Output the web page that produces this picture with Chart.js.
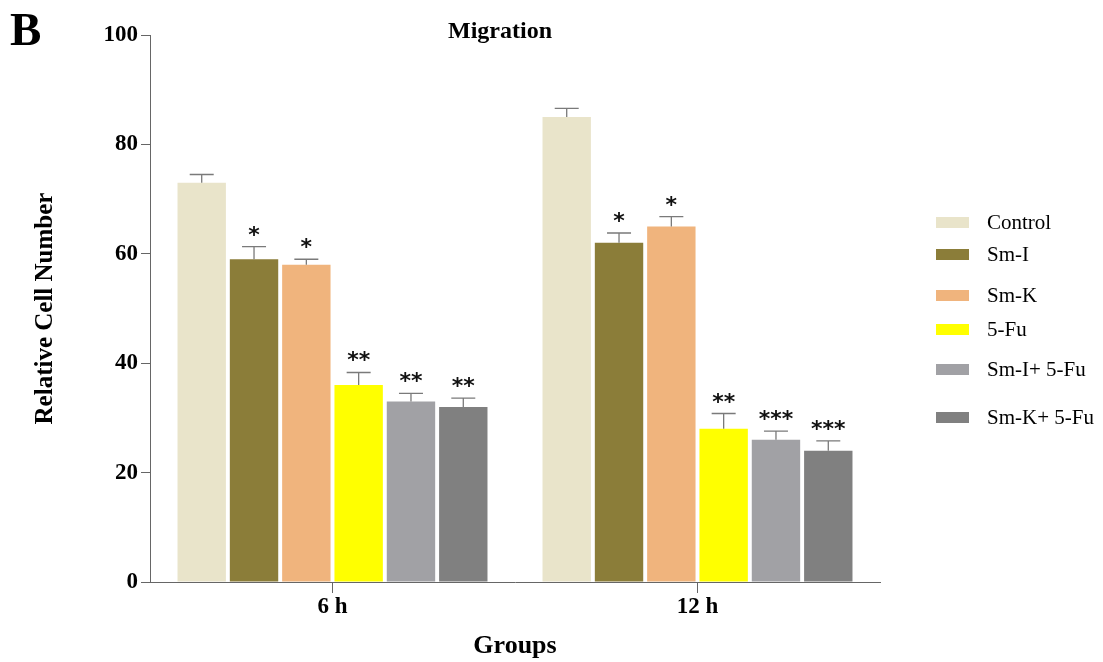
<!DOCTYPE html>
<html>
<head>
<meta charset="utf-8">
<script src="https://cdn.jsdelivr.net/npm/chart.js@4/dist/chart.umd.min.js"></script>
<style>
html,body{margin:0;padding:0;background:#fff;}
#wrap{width:1103px;height:662px;position:relative;}
</style>
</head>
<body>
<div id="wrap"><canvas id="c" width="1103" height="662"></canvas></div>
<script>
const categories = ['6 h', '12 h'];
const seriesNames = ['Control', 'Sm-I', 'Sm-K', '5-Fu', 'Sm-I+ 5-Fu', 'Sm-K+ 5-Fu'];
const controlValues = [73, 85];
const smIValues = [59, 62];
const smKValues = [58, 65];
const fuValues = [36, 28];
const smIFuValues = [33, 26];
const smKFuValues = [32, 24];
const controlErr = [1.5, 1.6];
const smIErr = [2.3, 1.8];
const smKErr = [1.0, 1.8];
const fuErr = [2.3, 2.8];
const smIFuErr = [1.5, 1.6];
const smKFuErr = [1.6, 1.8];
const controlSig = ['', ''];
const smISig = ['*', '*'];
const smKSig = ['*', '*'];
const fuSig = ['**', '**'];
const smIFuSig = ['**', '***'];
const smKFuSig = ['**', '***'];
const yTicks = [0, 20, 40, 60, 80, 100];

const colors = ['#E9E4CA', '#8B7D39', '#F0B47D', '#FFFF00', '#A1A1A5', '#808080'];
const values = [controlValues, smIValues, smKValues, fuValues, smIFuValues, smKFuValues];
const errs = [controlErr, smIErr, smKErr, fuErr, smIFuErr, smKFuErr];
const sigs = [controlSig, smISig, smKSig, fuSig, smIFuSig, smKFuSig];

const datasets = seriesNames.map((n, i) => ({
  label: n,
  data: values[i],
  backgroundColor: colors[i],
  borderWidth: 0,
  errors: errs[i],
  sig: sigs[i],
  categoryPercentage: 0.86,
  barPercentage: 0.925
}));

const serif = "'Liberation Serif', 'Times New Roman', serif";
const legendY = [222, 254, 295, 329, 369, 417];

const extras = {
  id: 'extras',
  afterDatasetsDraw(chart) {
    const ctx = chart.ctx;
    const y = chart.scales.y;
    chart.data.datasets.forEach((ds, di) => {
      const meta = chart.getDatasetMeta(di);
      meta.data.forEach((bar, i) => {
        const v = ds.data[i], e = ds.errors[i];
        const top = y.getPixelForValue(v + e);
        const base = y.getPixelForValue(v);
        ctx.save();
        ctx.strokeStyle = '#7a7a7a';
        ctx.lineWidth = 1.3;
        ctx.beginPath();
        ctx.moveTo(bar.x, base);
        ctx.lineTo(bar.x, top);
        ctx.moveTo(bar.x - 12, top);
        ctx.lineTo(bar.x + 12, top);
        ctx.stroke();
        if (ds.sig[i]) {
          ctx.fillStyle = '#111';
          ctx.font = "bold 22px 'DejaVu Sans', sans-serif";
          ctx.textAlign = 'center';
          ctx.textBaseline = 'alphabetic';
          ctx.fillText(ds.sig[i], bar.x, top - 5);
        }
        ctx.restore();
      });
    });
  },
  afterDraw(chart) {
    const ctx = chart.ctx;
    ctx.save();
    ctx.fillStyle = '#000';
    ctx.textBaseline = 'alphabetic';
    ctx.textAlign = 'left';
    ctx.font = "bold 47px " + serif;
    ctx.fillText('B', 10, 45);
    ctx.textAlign = 'center';
    ctx.font = "bold 24px " + serif;
    ctx.fillText('Migration', 500, 38);
    // legend
    chart.data.datasets.forEach((ds, i) => {
      const yy = legendY[i];
      ctx.fillStyle = ds.backgroundColor;
      ctx.fillRect(936, yy - 5, 33, 11);
      ctx.fillStyle = '#000';
      ctx.textAlign = 'left';
      ctx.textBaseline = 'middle';
      ctx.font = "21px " + serif;
      ctx.fillText(ds.label, 987, yy + 1);
    });
    ctx.restore();
  }
};

new Chart(document.getElementById('c'), {
  type: 'bar',
  data: { labels: categories, datasets },
  plugins: [extras],
  options: {
    responsive: false,
    animation: false,
    layout: { padding: { left: 31, right: 223, top: 35, bottom: 0 } },
    plugins: { legend: { display: false }, tooltip: { enabled: false }, title: { display: false } },
    scales: {
      x: {
        grid: { display: true, drawOnChartArea: false, offset: false, tickLength: 11, color: '#666', lineWidth: 1 },
        border: { color: '#666', width: 1 },
        ticks: { color: '#000', font: { family: serif, weight: 'bold', size: 23 }, padding: 0 },
        title: { display: true, text: 'Groups', color: '#000', font: { family: serif, weight: 'bold', size: 26 }, padding: { top: 4, bottom: 0 } },
        afterFit(s) { s.height = 80; }
      },
      y: {
        min: 0, max: 100,
        afterBuildTicks(s) { s.ticks = yTicks.map(v => ({ value: v })); },
        grid: { display: true, drawOnChartArea: false, tickLength: 9, color: '#666', lineWidth: 1 },
        border: { color: '#666', width: 1 },
        ticks: { color: '#000', font: { family: serif, weight: 'bold', size: 23 }, padding: 3 },
        title: { display: true, text: 'Relative Cell Number', color: '#000', font: { family: serif, weight: 'bold', size: 25 }, padding: { top: 0, bottom: 0 } },
        afterFit(s) { s.width = 119; }
      }
    }
  }
});
</script>
</body>
</html>
